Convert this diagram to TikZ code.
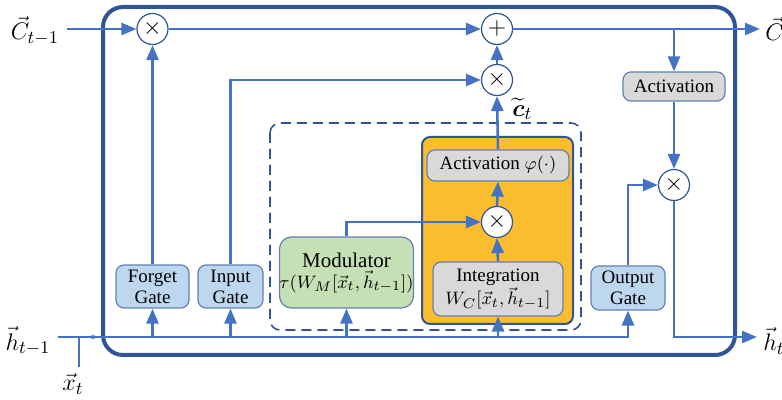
\documentclass[tikz,border=0pt]{standalone}
\usepackage{fontspec}
\setmainfont{Liberation Serif}
\usepackage{amsmath}
\usetikzlibrary{arrows.meta}
\usetikzlibrary{positioning}

\definecolor{lineblue}{HTML}{4472C4}
\definecolor{frameblue}{HTML}{2F5597}
\definecolor{gatefill}{HTML}{BDD7EE}
\definecolor{modfill}{HTML}{C5E0B4}
\definecolor{grayfill}{HTML}{D9D9D9}
\definecolor{orangefill}{HTML}{FBBD2E}

\begin{document}
\begin{tikzpicture}[x=0.5pt,y=-0.5pt,
  font=\fontsize{9.5}{10.5}\selectfont,
  wire/.style={draw=lineblue,line width=1.3pt},
  flow/.style={wire,-{Triangle[length=7.5pt,width=6pt]}},
  op/.style={draw=frameblue,fill=white,circle,minimum size=15.5pt,inner sep=0pt,line width=0.6pt,font=\fontsize{13}{13}\selectfont},
  box/.style={draw=frameblue!75,rounded corners=4pt,line width=0.6pt,align=center,inner sep=0pt},
  gatebox/.style={box,fill=gatefill},
  greybox/.style={box,fill=grayfill},
  modbox/.style={box,fill=modfill,rounded corners=6pt},
  lbl/.style={font=\fontsize{13}{15}\selectfont,inner sep=1pt}]
          \useasboundingbox (0,0) rectangle (782,400);
          % frames
          \draw[frameblue,line width=2pt,rounded corners=10pt] (103,7) rectangle (735,355);
          \draw[frameblue,line width=0.8pt,dash pattern=on 5pt off 3pt,rounded corners=5pt] (270,123) rectangle (581,330);
          \draw[frameblue,line width=1pt,fill=orangefill,rounded corners=4pt] (422,137) rectangle (573,324);
          % gates and blocks
          \node[gatebox,minimum width=36.5pt,minimum height=21.5pt] (forget) at (152.5,286.5) {Forget\\Gate};
          \node[gatebox,minimum width=32.5pt,minimum height=21.5pt] (input) at (230.5,286.5) {Input\\Gate};
          \node[modbox,minimum width=66.5pt,minimum height=35.5pt] (mod) at (346.5,272.5) {\fontsize{10.5}{14}\selectfont Modulator\\$\tau(W_M[\vec{x}_t,\vec{h}_{t-1}])$};
          \node[greybox,minimum width=65pt,minimum height=27pt] (integ) at (498,289) {Integration\\$W_C[\vec{x}_t,\vec{h}_{t-1}]$};
          \node[greybox,minimum width=71pt,minimum height=15.5pt] (actphi) at (498,165.5) {Activation $\varphi(\cdot)$};
          \node[gatebox,minimum width=37pt,minimum height=22pt] (output) at (628,288) {Output\\Gate};
          \node[greybox,minimum width=51pt,minimum height=14.5pt] (act) at (674,86.5) {Activation};
          % operators
          \node[op] (fx) at (152.5,29) {$\times$};
          \node[op] (plus) at (497,29) {$+$};
          \node[op] (ix) at (497,80) {$\times$};
          \node[op] (gx) at (497,222) {$\times$};
          \node[op] (ox) at (674,185) {$\times$};
          % ends
          \coordinate (cin) at (67,29);
          \coordinate (cout) at (760,29);
          \coordinate (hin) at (58,337);
          \coordinate (hout) at (757,337);
          \coordinate (xin) at (79,367);
          \node[lbl] (cprev) at (35,31) {$\vec{C}_{t-1}$};
          \node[lbl,anchor=west] (cnext) at (763,31) {$\vec{C}_t$};
          \node[lbl] (hprev) at (28,341) {$\vec{h}_{t-1}$};
          \node[lbl,anchor=west] (hnext) at (761,341) {$\vec{h}_t$};
          \node[lbl] (xt) at (73,384) {$\vec{x}_t$};
          \node[lbl,anchor=west] (ctil) at (510,109) {$\widetilde{\boldsymbol{c}}_t$};
          % cell state
          \draw[flow] (cin) -- (fx);
          \draw[flow] (fx) -- (plus);
          \draw[flow] (plus) -- (cout);
          \draw[flow] (forget.north) -- (fx.south);
          \draw[flow] (input.north) |- (ix.west);
          \draw[flow] (ix.north) -- (plus.south);
          \draw[flow] (actphi.north) -- (ix.south);
          \draw[flow] (gx.north) -- (actphi.south);
          \draw[flow] (integ.north) -- (gx.south);
          \draw[flow] (mod.north) |- (gx.west);
          % output path
          \draw[flow] (plus -| act.north) -- (act.north);
          \draw[flow] (act.south) -- (ox.north);
          \draw[flow] (output.north) |- (ox.west);
          \draw[flow] (ox.south) |- (hout);
          % hidden state and input
          \draw[flow] (hin) -| (output.south);
          \draw[wire] (xin) -- (xin |- hin);
          \foreach \g in {forget,input,mod,integ}
            \draw[flow] (hin -| \g.south) -- (\g.south);
          \node[draw=lineblue,circle,inner sep=0pt,minimum size=2pt,line width=0.3pt] (hop) at (93,337) {};
        \end{tikzpicture}
\end{document}
